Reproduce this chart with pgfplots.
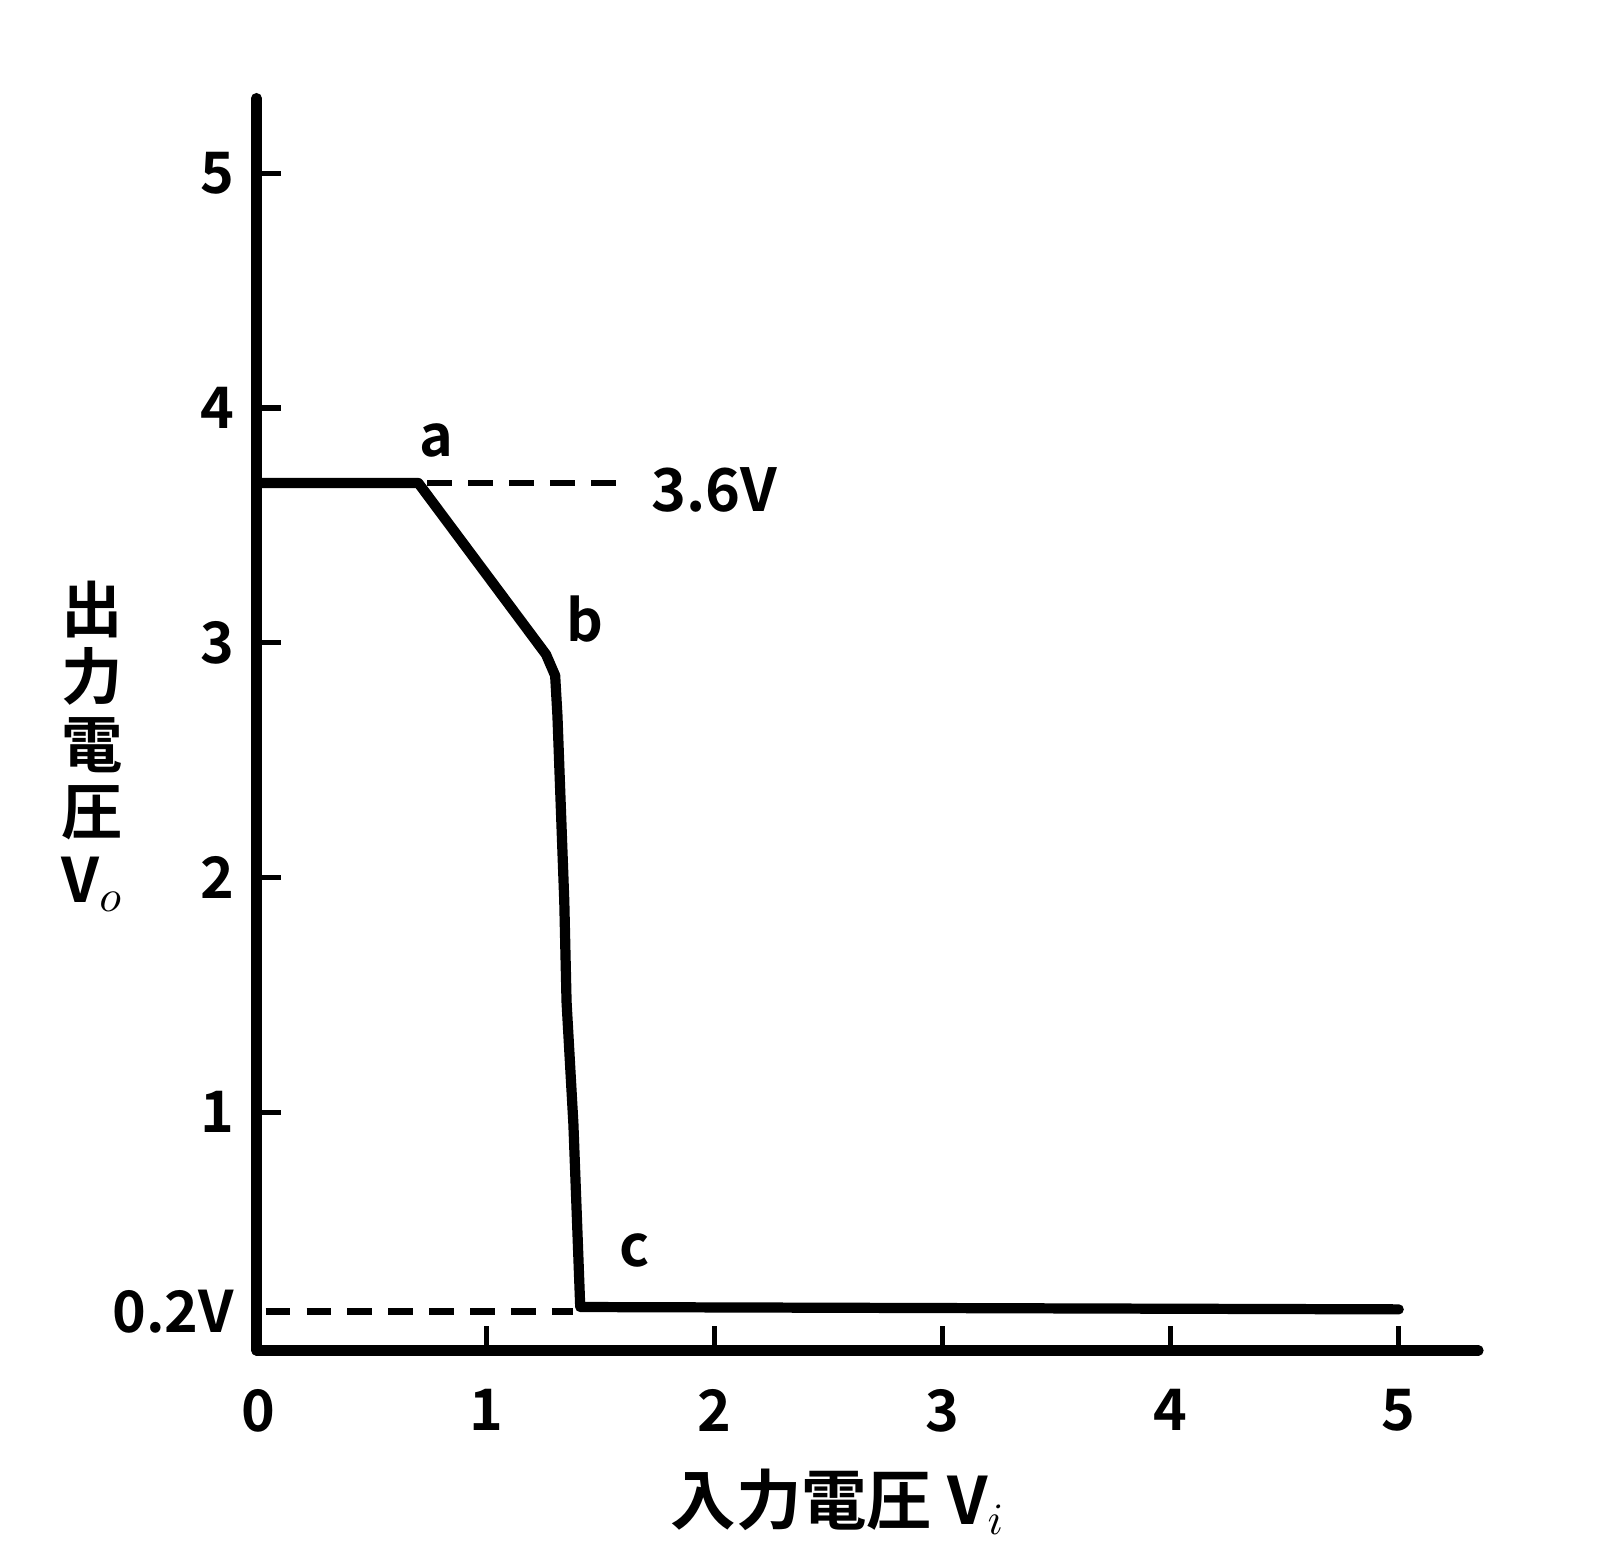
\documentclass[border=0pt]{standalone}
\usepackage{pgfplots}
\pgfplotsset{compat=1.18}
\usepackage{fontspec}
\setmainfont{Noto Sans CJK JP}[BoldFont={Noto Sans CJK JP Bold}]
\begin{document}
\begin{tikzpicture}
\begin{axis}[
  x=55.75pt, y=57.4pt,
  xmin=-0.01, xmax=5.35, ymin=-0.015, ymax=5.32,
  axis x line=bottom, axis y line=left,
  axis line style={line width=2.5pt, -, line cap=round},
  xtick={0,1,2,3,4,5}, ytick={1,2,3,4,5},
  extra y ticks={0.15}, extra y tick labels={0.2V},
  extra y tick style={major tick length=0pt},
  tick align=inside, major tick length=6pt,
  tick style={line width=1.3pt, black},
  /pgf/number format/assume math mode=true,
  ticklabel style={font=\fontsize{14}{16}\selectfont\bfseries},
  xticklabel style={yshift=-6pt},
  yticklabel style={xshift=-2pt},
  clip=false,
]
\path (axis cs:-1.135,-0.906) rectangle (axis cs:5.896,5.738);
\addplot[black, line width=2.5pt, line join=round, line cap=round] coordinates {
  (0,3.68) (0.70,3.68) (1.26,2.95) (1.30,2.86) (1.31,2.69) (1.34,1.90)
  (1.35,1.47) (1.38,0.95) (1.41,0.17) (5.0,0.16)};
\addplot[black, line width=1.6pt, dash pattern=on 6pt off 4pt] coordinates {(0.74,3.68) (1.62,3.68)};
\addplot[black, line width=1.6pt, dash pattern=on 6pt off 4pt] coordinates {(0.03,0.15) (1.38,0.15)};
\node[font=\fontsize{14}{16}\selectfont\bfseries] at (axis cs:0.78,3.86) {a};
\node[font=\fontsize{14}{16}\selectfont\bfseries] at (axis cs:1.43,3.10) {b};
\node[font=\fontsize{14}{16}\selectfont\bfseries] at (axis cs:1.65,0.41) {c};
\node[font=\fontsize{14.5}{16}\selectfont\bfseries, anchor=west] at (axis cs:1.66,3.65) {3.6V};
\node[font=\fontsize{15}{16.5}\selectfont\bfseries, align=center] at (axis cs:-0.73,2.56) {出\\力\\電\\圧\\V$_{o}$};
\node[font=\fontsize{16}{17}\selectfont\bfseries] at (axis cs:2.54,-0.66) {入力電圧 V$_{i}$};
\end{axis}
\end{tikzpicture}
\end{document}
